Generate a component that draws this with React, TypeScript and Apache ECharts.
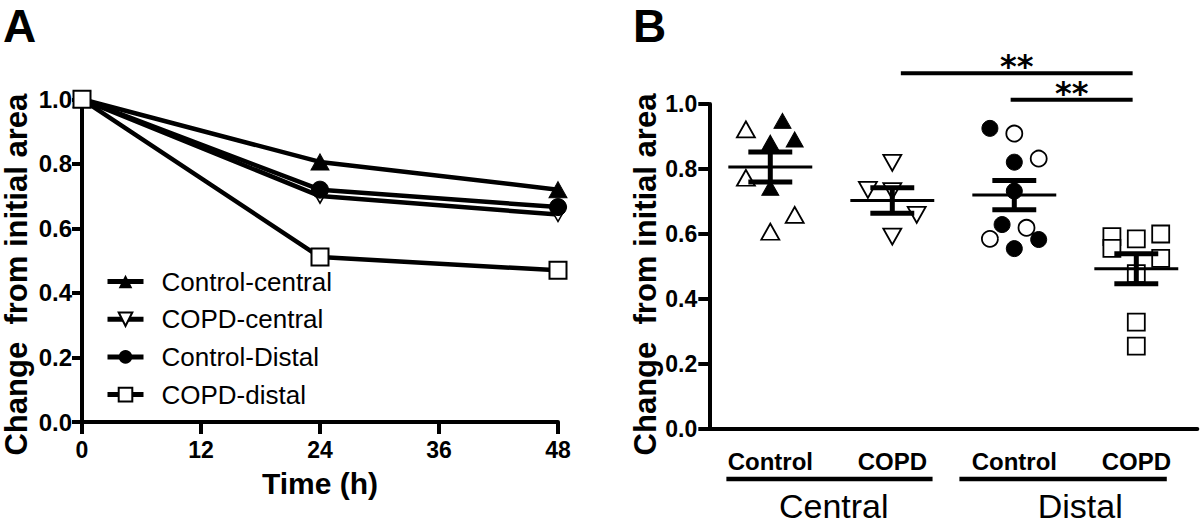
import React, { useEffect, useRef } from "react";
import * as echarts from "echarts";

// ---------- Panel A data ----------
const timePoints = [0, 24, 48];
const timeTicks = [0, 12, 24, 36, 48];
const seriesNamesA = ["Control-central", "COPD-central", "Control-Distal", "COPD-distal"];
const controlCentralA = [1.0, 0.806, 0.72];
const copdCentralA = [1.0, 0.7, 0.643];
const controlDistalA = [1.0, 0.72, 0.666];
const copdDistalA = [1.0, 0.511, 0.47];

// ---------- Panel B data ----------
const groupsB = ["Control", "COPD", "Control", "COPD"];
const regionsB = ["Central", "Distal"];
// individual values, with horizontal jitter in category units
const ccOpenVals = [0.922, 0.773, 0.659, 0.607];
const ccOpenJit = [-0.2, -0.2, 0.2, 0];
const ccFilledVals = [0.948, 0.891, 0.881, 0.742];
const ccFilledJit = [0.1, 0.2, 0, 0];
const cpcVals = [0.819, 0.736, 0.732, 0.659, 0.592];
const cpcJit = [0, -0.2, 0, 0.2, 0];
const cdFilledVals = [0.925, 0.821, 0.732, 0.629, 0.583, 0.555];
const cdFilledJit = [-0.2, 0, 0, -0.1, 0.2, 0];
const cdOpenVals = [0.909, 0.832, 0.619, 0.585];
const cdOpenJit = [0, 0.2, 0.1, -0.2];
const cpdVals = [0.592, 0.585, 0.6, 0.556, 0.525, 0.478, 0.329, 0.255];
const cpdJit = [-0.2, 0, 0.2, -0.2, 0.2, 0, 0, 0];
const meansB = [0.806, 0.703, 0.72, 0.493];
const semB = [0.046, 0.039, 0.045, 0.046];
// significance bars: from / to (category units), height (value units), label
const sigFrom = [1.07, 1.97];
const sigTo = [2.97, 2.97];
const sigLevel = [1.095, 1.013];
const sigLabels = ["**", "**"];
// region brackets under axis
const regionStart = [-0.36, 1.55];
const regionEnd = [1.33, 3.25];
const regionLabelAt = [0.52, 2.54];

const FONT = "Liberation Sans, Arial, Helvetica, sans-serif";
const downTri = "path://M0,0 L10,0 L5,9 Z";

const App: React.FC = () => {
  const ref = useRef<HTMLDivElement>(null);

  useEffect(() => {
    if (!ref.current) return;
    const chart = echarts.init(ref.current, undefined, { renderer: "svg" });

    const lineBase = (name: string, vals: number[]) => ({
      type: "line",
      name,
      xAxisIndex: 0,
      yAxisIndex: 0,
      data: timePoints.map((t, i) => [t, vals[i]]),
      lineStyle: { color: "#000", width: 4.5 },
      emphasis: { disabled: true },
    });

    const scatterB = (vals: number[], jit: number[], cat: number, symbol: string, size: number | number[], filled: boolean) => ({
      type: "scatter",
      xAxisIndex: 2,
      yAxisIndex: 1,
      symbol,
      symbolSize: size,
      data: vals.map((v, i) => [cat + jit[i], v]),
      itemStyle: filled
        ? { color: "#000", borderColor: "#000", borderWidth: 1, opacity: 1 }
        : { color: "#fff", borderColor: "#000", borderWidth: 1.8, opacity: 1 },
      emphasis: { disabled: true },
      z: 2,
    });

    const axisText = { color: "#000", fontFamily: FONT, fontWeight: "bold" };

    const option: any = {
      animation: false,
      color: ["#000"],
      textStyle: { fontFamily: FONT },
      grid: [
        { left: 81.5, top: 99.3, width: 476.5, height: 322.7 },
        { left: 709.3, top: 104, width: 488, height: 325 },
      ],
      legend: {
        orient: "vertical",
        left: 100,
        top: 263.5,
        itemWidth: 36,
        itemHeight: 17,
        itemGap: 11.7,
        data: seriesNamesA,
        lineStyle: { width: 5 },
        textStyle: { fontSize: 26, color: "#000", fontFamily: FONT, lineHeight: 26, padding: [0, 0, 0, 13] },
        selectedMode: false,
      },
      xAxis: [
        {
          type: "value",
          gridIndex: 0,
          min: 0,
          max: 48,
          interval: 12,
          name: "Time (h)",
          nameLocation: "middle",
          nameGap: 46,
          nameTextStyle: { ...axisText, fontSize: 30 },
          axisLine: { lineStyle: { color: "#000", width: 4 } },
          axisTick: { length: 12, lineStyle: { color: "#000", width: 4 } },
          axisLabel: { ...axisText, fontSize: 23, margin: 16, formatter: (v: number) => (timeTicks.includes(v) ? String(v) : "") },
          splitLine: { show: false },
        },
        {
          type: "category",
          gridIndex: 1,
          data: groupsB,
          boundaryGap: true,
          axisLine: { lineStyle: { color: "#000", width: 4 } },
          axisTick: { alignWithLabel: true, length: 12, lineStyle: { color: "#000", width: 4 } },
          axisLabel: { ...axisText, fontSize: 24, margin: 20, color: "#000" },
          splitLine: { show: false },
        },
        {
          type: "value",
          gridIndex: 1,
          min: -0.5,
          max: 3.5,
          show: false,
          splitLine: { show: false },
        },
      ],
      yAxis: [
        {
          type: "value",
          gridIndex: 0,
          min: 0,
          max: 1,
          interval: 0.2,
          name: "Change  from initial area",
          nameLocation: "middle",
          nameRotate: 90,
          nameGap: 50,
          nameTextStyle: { ...axisText, fontSize: 31, padding: [0, 28, 0, 0] },
          axisLine: { show: true, onZero: false, lineStyle: { color: "#000", width: 4 } },
          axisTick: { show: true, length: 10, lineStyle: { color: "#000", width: 4 } },
          axisLabel: { ...axisText, fontSize: 24, margin: 10, formatter: (v: number) => v.toFixed(1) },
          splitLine: { show: false },
        },
        {
          type: "value",
          gridIndex: 1,
          min: 0,
          max: 1,
          interval: 0.2,
          name: "Change  from initial area",
          nameLocation: "middle",
          nameRotate: 90,
          nameGap: 48,
          nameTextStyle: { ...axisText, fontSize: 31, padding: [0, 16, 0, 0] },
          axisLine: { show: true, onZero: false, lineStyle: { color: "#000", width: 4 } },
          axisTick: { show: true, length: 11, lineStyle: { color: "#000", width: 4 } },
          axisLabel: { ...axisText, fontSize: 23, margin: 12, formatter: (v: number) => v.toFixed(1) },
          splitLine: { show: false },
        },
      ],
      graphic: [
        { type: "text", left: 3, top: 3, style: { text: "A", font: `bold 46px ${FONT}`, fill: "#000" } },
        { type: "text", left: 633, top: 3, style: { text: "B", font: `bold 46px ${FONT}`, fill: "#000" } },
      ],
      series: [
        {
          ...lineBase(seriesNamesA[0], controlCentralA),
          symbol: "triangle",
          symbolSize: [18, 16],
          itemStyle: { color: "#000", borderColor: "#000" },
          z: 2,
        },
        {
          ...lineBase(seriesNamesA[1], copdCentralA),
          symbol: downTri,
          symbolSize: [16, 14],
          itemStyle: { color: "#fff", borderColor: "#000", borderWidth: 1.5 },
          z: 2,
        },
        {
          ...lineBase(seriesNamesA[2], controlDistalA),
          symbol: "circle",
          symbolSize: 17,
          itemStyle: { color: "#000", borderColor: "#000" },
          z: 3,
        },
        {
          ...lineBase(seriesNamesA[3], copdDistalA),
          symbol: "rect",
          symbolSize: 17,
          itemStyle: { color: "#fff", borderColor: "#000", borderWidth: 2 },
          z: 4,
        },
        scatterB(ccOpenVals, ccOpenJit, 0, "triangle", [18, 16], false),
        scatterB(ccFilledVals, ccFilledJit, 0, "triangle", [17, 15], true),
        scatterB(cpcVals, cpcJit, 1, downTri, [18, 16], false),
        scatterB(cdFilledVals, cdFilledJit, 2, "circle", 16, true),
        scatterB(cdOpenVals, cdOpenJit, 2, "circle", 16, false),
        scatterB(cpdVals, cpdJit, 3, "rect", 17, false),
        {
          type: "custom",
          xAxisIndex: 2,
          yAxisIndex: 1,
          z: 5,
          silent: true,
          data: meansB.map((m, i) => [i, m, semB[i]]),
          renderItem: (params: any, api: any) => {
            const x = api.value(0);
            const m = api.value(1);
            const s = api.value(2);
            const w = api.size([1, 0])[0];
            const c = api.coord([x, m]);
            const hi = api.coord([x, m + s]);
            const lo = api.coord([x, m - s]);
            const st = (lw: number) => ({ stroke: "#000", lineWidth: lw });
            return {
              type: "group",
              children: [
                { type: "line", shape: { x1: c[0] - 0.344 * w, y1: c[1], x2: c[0] + 0.344 * w, y2: c[1] }, style: st(3) },
                { type: "line", shape: { x1: c[0], y1: hi[1], x2: c[0], y2: lo[1] }, style: st(5) },
                { type: "line", shape: { x1: c[0] - 0.18 * w, y1: hi[1], x2: c[0] + 0.18 * w, y2: hi[1] }, style: st(5) },
                { type: "line", shape: { x1: c[0] - 0.18 * w, y1: lo[1], x2: c[0] + 0.18 * w, y2: lo[1] }, style: st(5) },
              ],
            };
          },
        },
        {
          type: "custom",
          xAxisIndex: 2,
          yAxisIndex: 1,
          z: 5,
          silent: true,
          clip: false,
          data: sigFrom.map((f, i) => [f, sigTo[i], sigLevel[i], i]),
          renderItem: (params: any, api: any) => {
            const a = api.coord([api.value(0), api.value(2)]);
            const b = api.coord([api.value(1), api.value(2)]);
            const idx = api.value(3);
            return {
              type: "group",
              children: [
                { type: "line", shape: { x1: a[0], y1: a[1], x2: b[0], y2: b[1] }, style: { stroke: "#000", lineWidth: 4 } },
                {
                  type: "text",
                  x: (a[0] + b[0]) / 2,
                  y: a[1] + 9,
                  style: { text: sigLabels[idx], font: "bold 32px DejaVu Sans, sans-serif", fill: "#000", align: "center", verticalAlign: "bottom" },
                },
              ],
            };
          },
        },
        {
          type: "custom",
          xAxisIndex: 2,
          yAxisIndex: 1,
          z: 5,
          silent: true,
          clip: false,
          data: regionStart.map((s, i) => [s, regionEnd[i], regionLabelAt[i], i]),
          renderItem: (params: any, api: any) => {
            const a = api.coord([api.value(0), 0]);
            const b = api.coord([api.value(1), 0]);
            const t = api.coord([api.value(2), 0]);
            const idx = api.value(3);
            return {
              type: "group",
              children: [
                { type: "line", shape: { x1: a[0], y1: a[1] + 50, x2: b[0], y2: b[1] + 50 }, style: { stroke: "#000", lineWidth: 4.5 } },
                {
                  type: "text",
                  x: t[0],
                  y: t[1] + 77,
                  style: { text: regionsB[idx], font: `34px ${FONT}`, fill: "#000", align: "center", verticalAlign: "middle" },
                },
              ],
            };
          },
        },
      ],
    };

    chart.setOption(option);
    return () => chart.dispose();
  }, []);

  return <div ref={ref} style={{ position: "fixed", left: 0, top: 0, width: 1200, height: 527, background: "#fff" }} />;
};

export default App;
